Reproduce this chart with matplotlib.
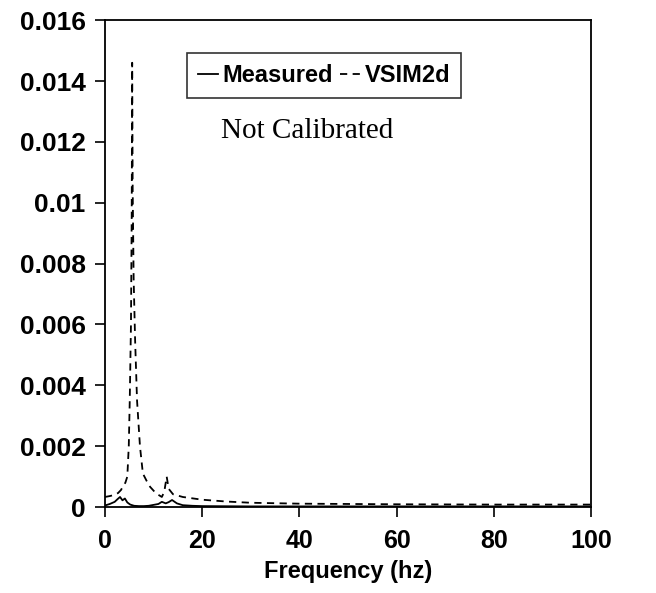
import numpy as np
import matplotlib
matplotlib.use("Agg")
import matplotlib.pyplot as plt

# ---------------------------------------------------------------------------
# Data (frequency in hz, amplitude)
# ---------------------------------------------------------------------------

freq_sim = [0, 1, 2, 2.7, 3.3, 3.7, 4.2, 4.6, 4.9, 5.1, 5.35, 5.5, 5.6, 5.7,
            5.9, 6.2, 6.6, 7.2, 7.8, 8.6, 9.3, 10.5, 11.7, 12.2, 12.7, 13.1,
            14, 16, 20, 25, 30, 40, 60, 80, 100]
vsim2d = [0.00033, 0.00036, 0.0004, 0.00046, 0.00056, 0.00068, 0.0008,
          0.001, 0.002, 0.0035, 0.006, 0.0095, 0.0146, 0.0105, 0.0075,
          0.0055, 0.0035, 0.002, 0.0011, 0.00085, 0.00066, 0.00045,
          0.00033, 0.0005, 0.001, 0.0006, 0.00042, 0.00033, 0.00024,
          0.00018, 0.00014, 0.00011, 0.00009, 0.00008, 0.00008]

freq_meas = [0, 1, 2, 2.6, 3.1, 3.6, 4.1, 4.6, 5.2, 6, 7, 8, 9, 10, 11, 11.7,
             12.5, 13.1, 13.8, 14.8, 16, 18, 20, 30, 50, 100]
measured = [0.00005, 0.0001, 0.00017, 0.00026, 0.00033, 0.00022, 0.00028,
            0.00015, 0.00008, 0.00004, 0.00003, 0.00003, 0.00004, 0.00007,
            0.0001, 0.00017, 0.00012, 0.00016, 0.00023, 0.00012, 0.00006,
            0.00004, 0.00003, 0.00002, 0.00002, 0.00002]

x_ticks = [0, 20, 40, 60, 80, 100]
y_ticks = [0, 0.002, 0.004, 0.006, 0.008, 0.01, 0.012, 0.014, 0.016]
y_labels = ["0", "0.002", "0.004", "0.006", "0.008", "0.01", "0.012",
            "0.014", "0.016"]

# ---------------------------------------------------------------------------
# Figure
# ---------------------------------------------------------------------------

plt.rcParams["font.family"] = ["Liberation Sans", "DejaVu Sans"]

fig = plt.figure(figsize=(6.56, 5.93), dpi=100)
ax = fig.add_axes([0.160, 0.145, 0.741, 0.821])

ax.plot(freq_meas, measured, color="black", lw=1.3, label="Measured")
ax.plot(freq_sim, vsim2d, color="black", lw=1.3, ls=(0, (4, 3)),
        label="VSIM2d")

ax.set_xlim(0, 100)
ax.set_ylim(0, 0.016)
ax.set_xticks(x_ticks)
ax.set_yticks(y_ticks)
ax.set_yticklabels(y_labels)
ax.tick_params(direction="out", length=7, width=1.2, pad=7)
ax.tick_params(axis="x", labelsize=18, pad=9)
ax.tick_params(axis="y", labelsize=19)
for lab in ax.get_xticklabels() + ax.get_yticklabels():
    lab.set_fontweight("bold")
for sp in ax.spines.values():
    sp.set_linewidth(1.3)

ax.set_xlabel("Frequency (hz)", fontsize=17, fontweight="bold", labelpad=5)

leg = ax.legend(loc="upper left", bbox_to_anchor=(0.169, 0.932), ncol=2,
                borderaxespad=0, frameon=True, fancybox=False,
                edgecolor="black", handlelength=0.85, handletextpad=0.2,
                columnspacing=0.3, borderpad=0.45,
                prop={"size": 17, "weight": "bold"})
leg.get_frame().set_linewidth(1.2)

ax.text(0.415, 0.772, "Not Calibrated", transform=ax.transAxes,
        ha="center", va="center", fontsize=21,
        family=["Liberation Serif", "DejaVu Serif"])

fig.savefig("out.png", dpi=100)
